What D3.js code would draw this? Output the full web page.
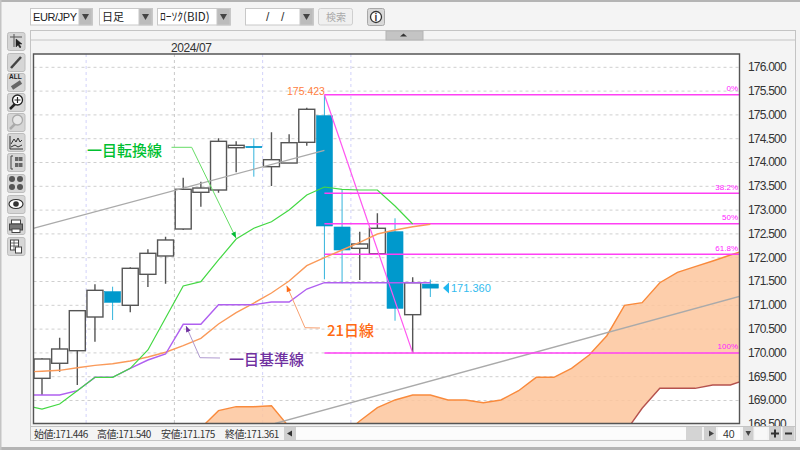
<!DOCTYPE html>
<html>
<head>
<meta charset="utf-8">
<script src="https://cdn.jsdelivr.net/npm/d3@7"></script>
<style>
html, body { margin: 0; padding: 0; background: #f4f4f4; overflow: hidden; }
text { font-family: "Liberation Sans", Arial, sans-serif; }
.jp { font-family: "Noto Sans CJK JP", sans-serif; }
</style>
</head>
<body>
<script>
// prices, one entry per daily bar
var opens  = [169.466,169.782,170.046,170.754,171.286,171.000,171.651,172.036,172.603,173.374,173.422,174.311,174.340,173.912,173.989,174.424,174.983,172.645,172.197,172.084,172.546,170.803,171.446]
var highs  = [169.887,170.319,170.900,171.441,171.391,171.798,172.176,172.441,173.681,173.597,174.508,174.445,174.508,174.634,174.592,175.151,175.423,173.422,172.546,172.933,172.828,171.588,171.540]
var lows   = [169.116,169.605,169.326,170.235,170.691,170.853,171.384,171.454,172.582,173.071,173.366,173.794,173.702,173.506,173.989,174.353,171.546,171.462,171.532,172.084,170.676,170.000,171.175]
var closes = [169.872,170.082,170.887,171.315,171.063,171.777,172.092,172.372,173.437,173.464,174.445,174.361,174.311,174.059,174.416,175.118,172.666,172.162,172.288,172.618,170.937,171.475,171.361]

// these start one bar left of the frame
var tenkan = [168.899,168.821,168.926,169.206,169.487,169.487,169.676,170.061,170.733,171.405,171.496,171.952,172.393,172.618,172.756,173.002,173.317,173.485,173.437,173.422,173.422,173.086,172.708]
var kijun  = [169.116,169.116,169.116,169.206,169.487,169.487,169.676,169.851,169.977,170.601,170.601,171.013,171.013,171.013,171.069,171.069,171.342,171.475,171.475,171.475,171.475,171.475,171.475,171.475]
var ma21   = [169.599,169.613,169.634,169.689,169.739,169.773,169.830,169.914,170.013,170.151,170.307,170.607,170.845,171.048,171.258,171.511,171.832,172.000,172.162,172.324,172.498,172.582,172.651,172.702]

// cloud, starts at bar 9, runs to bar 40
var spanA = [168.422,168.786,168.870,168.870,168.891,168.443,168.212,168.170,168.250,168.569,168.849,169.011,169.116,169.116,169.011,169.011,168.954,169.011,169.206,169.487,169.487,169.676,169.956,170.361,171.000,171.055,171.475,171.693,171.811,171.931,172.057,172.176]
var spanB = [168.000,168.000,168.000,168.000,168.000,168.000,168.000,168.000,168.000,168.000,168.000,168.000,168.000,168.000,168.000,168.000,168.000,168.000,168.000,168.000,168.000,168.000,168.000,168.000,168.317,168.836,169.256,169.256,169.256,169.326,169.326,169.452]

var trendUpper = [[-0.5,172.618],[16,174.256]]
var trendLower = [[13.2,168.517],[39.6,171.195]]

var fibHigh = 175.423
var fibLow = 170.000
var fibLevels = [0,0.382,0.5,0.618,1]
var fibLabels = ["0%","38.2%","50%","61.8%","100%"]
var priceTicks = [176,175.5,175,174.5,174,173.5,173,172.5,172,171.5,171,170.5,170,169.5,169,168.5]
var dayLinesLavender = [2.5,12.5,17.5]
var dayLinesMonth = [7.5]

var svg = d3.select("body").append("svg")
  .attr("width", 800)
  .attr("height", 450)
  .style("display", "block")

var x = d3.scaleLinear().domain([0,39]).range([42,730.4])
var y = d3.scaleLinear().domain([176,170]).range([67.3,352.9])

function box(g, x0, y0, w, h, fill, stroke) {
  return g.append("rect").attr("x", x0).attr("y", y0).attr("width", w).attr("height", h)
    .attr("fill", fill).attr("stroke", stroke || "none")
}
function label(g, x0, y0, s, size, color, jp) {
  var t = g.append("text").attr("x", x0).attr("y", y0).text(s)
    .attr("font-size", size).attr("fill", color)
  if (jp) t.attr("class", "jp")
  return t
}

// window background and outer edges
box(svg, 0, 0, 800, 450, "#f4f4f4")
box(svg, 0, 0, 800, 2, "#b4b4b4")
box(svg, 0, 447, 800, 3, "#b4b4b4")
box(svg, 0, 0, 1.5, 450, "#c4c4c4")

// top toolbar
var topBar = svg.append("g")
function combo(x0, w, s, jp, size) {
  box(topBar, x0+.5, 8.5, w, 16.5, "#fff", "#c8c8c8")
  box(topBar, x0+w-13, 8.5, 13, 16.5, "#bcbcbc", "#c8c8c8")
  topBar.append("path").attr("d", d3.line()([[x0+w-10,14],[x0+w-3,14],[x0+w-6.5,20]])).attr("fill", "#444")
  return label(topBar, x0+3, 21, s, size || 12, "#222", jp)
}
combo(30, 62, "EUR/JPY", false, 11).attr("letter-spacing", -0.4)
combo(99, 53, "日足", true, 11)
combo(157, 73, "ﾛｰｿｸ(BID)", true, 11.5)
combo(245, 68, "", false)
label(topBar, 266, 21, "/", 12, "#333")
label(topBar, 281, 21, "/", 12, "#333")
box(topBar, 318.5, 8.5, 34, 16.5, "#f0f0f0", "#cfcfcf").attr("rx", 2)
label(topBar, 326, 21, "検索", 10, "#aaa", true)
box(topBar, 367.5, 8.5, 17, 17, "#d8d8d8", "#a8a8a8").attr("rx", 2)
topBar.append("circle").attr("cx", 376).attr("cy", 17).attr("r", 5.5).attr("fill", "#fff").attr("stroke", "#333").attr("stroke-width", 1.3)
label(topBar, 376, 21, "i", 10, "#333").attr("text-anchor", "middle").attr("font-weight", "bold")

// chart panel
box(svg, 30.5, 30.5, 765, 410, "#f4f4f4", "#c4c4c4")
svg.append("line").attr("x1", 30).attr("x2", 795).attr("y1", 40).attr("y2", 40).attr("stroke", "#c4c4c4")
box(svg, 386, 31, 37, 9, "#c4c4c4", "#b4b4b4")
svg.append("path").attr("d", d3.line()([[400,36.5],[407,36.5],[403.5,33.5]])).attr("fill", "#333")
label(svg, 171, 52, "2024/07", 12, "#333").attr("letter-spacing", -0.4)

// left toolbar
var tools = svg.append("g")
var toolTops = [32,53,73,93,113,133,153,174,195,216,237]
toolTops.forEach(function(t) {
  box(tools, 7.5, t+.5, 17.5, 18, "#d6d6d6", "#bdbdbd").attr("rx", 2)
})
function icon(t, d, stroke, w, fill) {
  tools.append("path").attr("d", d).attr("transform", "translate(7," + t + ")")
    .attr("fill", fill || "none").attr("stroke", stroke || "#444").attr("stroke-width", w || 1)
}
icon(32, "M3 5H15M7 2V15", "#555")
icon(32, "M9 7L9 15L11 13L13 16L14 15L12 12L15 12Z", "#222", .5, "#222")
icon(53, "M4 15L14 4", "#444", 2.5)
label(tools, 9, 79, "ALL", 6.5, "#222").attr("font-weight", "bold")
icon(73, "M5 15L14 9", "#666", 4)
icon(93, "M3 16L8 11", "#222", 2.5)
tools.append("circle").attr("cx", 17.5).attr("cy", 100).attr("r", 5).attr("fill", "#fff").attr("stroke", "#222").attr("stroke-width", 1.3)
icon(93, "M7.5 7H13.5M10.5 4V10", "#222", 1.2)
icon(113, "M3 16L8 11", "#aaa", 2.5)
tools.append("circle").attr("cx", 17.5).attr("cy", 120).attr("r", 5).attr("fill", "#e8e8e8").attr("stroke", "#aaa").attr("stroke-width", 1.3)
icon(133, "M3 3V16H16M4 11L7 6L9 9L11 5L13 9L15 7", "#333")
icon(133, "M4 14L8 12L11 14L15 12", "#333")
icon(153, "M4 3V16M4 3H6M4 16H6", "#444")
;[[8,4],[12,4],[8,10],[12,10]].forEach(function(p) { box(tools, 7+p[0], 153+p[1], 3.5, 4, "#666") })
;[[5,5],[13,5],[5,13],[13,13]].forEach(function(p) {
  tools.append("circle").attr("cx", 7+p[0]).attr("cy", 174+p[1]).attr("r", 3).attr("fill", "#555")
})
tools.append("ellipse").attr("cx", 16).attr("cy", 204).attr("rx", 7).attr("ry", 4.5).attr("fill", "#fff").attr("stroke", "#333").attr("stroke-width", 1.2)
tools.append("circle").attr("cx", 16).attr("cy", 204).attr("r", 2.8).attr("fill", "#333")
box(tools, 11.5, 220, 9, 4, "#fff", "#444")
box(tools, 9.5, 224, 13, 6, "#777", "#444")
box(tools, 12, 229, 8, 3.5, "#fff", "#444")
box(tools, 10.5, 240, 8, 10, "#fff", "#444")
icon(237, "M3.5 6H11.5M3.5 9H11.5M7 3V13", "#444", .8)
box(tools, 15.5, 247, 6, 6, "#fff", "#444")

// plot
svg.append("defs").append("clipPath").attr("id", "plotclip").append("rect")
  .attr("x", 33.5).attr("y", 54).attr("width", 706).attr("height", 369.5)
box(svg, 33.5, 54, 706, 369.5, "#fff")

var plot = svg.append("g").attr("clip-path", "url(#plotclip)")

plot.append("g").selectAll("line").data(priceTicks).join("line")
  .attr("x1", 33.5).attr("x2", 739.5)
  .attr("y1", function(d) { return y(d) }).attr("y2", function(d) { return y(d) })
  .attr("stroke", "#cfcfcf").attr("stroke-dasharray", "3,3")
plot.append("g").selectAll("line").data(dayLinesLavender).join("line")
  .attr("x1", function(d) { return x(d) }).attr("x2", function(d) { return x(d) })
  .attr("y1", 54).attr("y2", 423.5)
  .attr("stroke", "#d2d2fa").attr("stroke-dasharray", "3,3")
plot.append("g").selectAll("line").data(dayLinesMonth).join("line")
  .attr("x1", function(d) { return x(d) }).attr("x2", function(d) { return x(d) })
  .attr("y1", 54).attr("y2", 423.5)
  .attr("stroke", "#c8c8c8").attr("stroke-dasharray", "3,3")

// cloud
var cloud = d3.area()
  .x(function(d, i) { return x(i+9) })
  .y0(function(d, i) { return y(spanB[i]) })
  .y1(function(d) { return y(d) })
plot.append("path").datum(spanA).attr("d", cloud).attr("fill", "#fdc59c").attr("fill-opacity", .85)

var lineFrom = function(start) {
  return d3.line().x(function(d, i) { return x(i+start) }).y(function(d) { return y(d) })
}
plot.append("path").datum(spanA).attr("d", lineFrom(9)).attr("fill", "none").attr("stroke", "#f98a3c").attr("stroke-width", 1.4)
plot.append("path").datum(spanB).attr("d", lineFrom(9)).attr("fill", "none").attr("stroke", "#b5524e").attr("stroke-width", 1.4)

// candles
var bars = d3.range(opens.length)
plot.append("g").selectAll("line").data(bars).join("line")
  .attr("x1", function(i) { return x(i) }).attr("x2", function(i) { return x(i) })
  .attr("y1", function(i) { return y(highs[i]) }).attr("y2", function(i) { return y(lows[i]) })
  .attr("stroke", function(i) { return closes[i] < opens[i] ? "#33b4dc" : "#555" })
  .attr("stroke-width", function(i) { return closes[i] < opens[i] ? 1 : 1.4 })
plot.append("g").selectAll("rect").data(bars).join("rect")
  .attr("x", function(i) { return x(i) - 8 })
  .attr("width", 16)
  .attr("y", function(i) { return y(Math.max(opens[i], closes[i])) })
  .attr("height", function(i) { return Math.abs(y(opens[i]) - y(closes[i])) })
  .attr("fill", function(i) { return closes[i] < opens[i] ? "#0099cc" : "#fff" })
  .attr("stroke", function(i) { return closes[i] < opens[i] ? "#0099cc" : "#555" })
  .attr("stroke-width", function(i) { return closes[i] < opens[i] ? .6 : 1.4 })

// trend lines
var pairLine = d3.line().x(function(d) { return x(d[0]) }).y(function(d) { return y(d[1]) })
plot.append("path").datum(trendUpper).attr("d", pairLine).attr("fill", "none").attr("stroke", "#aaa").attr("stroke-width", 1.3)
plot.append("path").datum(trendLower).attr("d", pairLine).attr("fill", "none").attr("stroke", "#aaa").attr("stroke-width", 1.3)

// fibonacci
function fibPrice(l) { return fibHigh - (fibHigh - fibLow) * l }
plot.append("g").selectAll("line").data(fibLevels).join("line")
  .attr("x1", x(16)).attr("x2", 739.5)
  .attr("y1", function(d) { return y(fibPrice(d)) }).attr("y2", function(d) { return y(fibPrice(d)) })
  .attr("stroke", "#ff40f4").attr("stroke-width", 1.5)
plot.append("path").datum([[16,fibHigh],[21,fibLow]]).attr("d", pairLine).attr("fill", "none").attr("stroke", "#ff55f0").attr("stroke-width", 1.2)
svg.append("g").selectAll("text").data(fibLevels).join("text")
  .attr("x", 738)
  .attr("y", function(d) { return y(fibPrice(d)) - 3.5 })
  .attr("text-anchor", "end")
  .attr("font-size", 8)
  .attr("fill", "#ff22ff")
  .text(function(d, i) { return fibLabels[i] })

// indicators
plot.append("path").datum(ma21).attr("d", lineFrom(-1)).attr("fill", "none").attr("stroke", "#fa9a5a").attr("stroke-width", 1.4)
plot.append("path").datum(kijun).attr("d", lineFrom(-1)).attr("fill", "none").attr("stroke", "#b060f0").attr("stroke-width", 1.4)
plot.append("path").datum(tenkan).attr("d", lineFrom(-1)).attr("fill", "none").attr("stroke", "#44d844").attr("stroke-width", 1.2)

// annotations with leader lines
function leader(pts, color, head) {
  svg.append("path").attr("d", d3.line()(pts)).attr("fill", "none").attr("stroke", color).attr("stroke-width", 1)
  var a = pts[pts.length-2], b = pts[pts.length-1]
  var ang = Math.atan2(b[1]-a[1], b[0]-a[0]) * 180 / Math.PI
  svg.append("path").attr("d", "M0 0L-6 -2.5L-6 2.5Z")
    .attr("transform", "translate(" + b[0] + "," + b[1] + ") rotate(" + ang + ")")
    .attr("fill", head)
}
leader([[171.5,147.3],[191.7,147.3],[236,238]], "#66dd66", "#00bb33")
leader([[320,328],[305,327.7],[286.7,285.7]], "#f8a070", "#ff6a13")
leader([[220,358],[200,357.7],[186,326]], "#b09ad0", "#7030a0")
label(svg, 87, 155.5, "一目転換線", 15, "#00c030", true).attr("font-weight", 500)
label(svg, 327, 335.5, "21日線", 15, "#ff6a13", true).attr("font-weight", 500)
label(svg, 229, 364.5, "一目基準線", 15, "#7030a0", true).attr("font-weight", 500)
label(svg, 287, 95, "175.423", 10.5, "#ff8040")

// current price marker
svg.append("path").attr("d", d3.line()([[443,y(closes[22])],[449,y(closes[22])-5.5],[449,y(closes[22])+5.5]])).attr("fill", "#22b8f0")
label(svg, 451, y(closes[22]) + 4, "171.360", 11, "#33bbee")

// frame
svg.append("path").attr("d", "M33.5 423.5V54H739.5V423.5Z").attr("fill", "none").attr("stroke", "#555").attr("stroke-width", 1.4)

// price axis
var axis = d3.axisRight(y).tickValues(priceTicks).tickSize(0).tickPadding(0)
  .tickFormat(function(d) { return d.toFixed(3) })
var axisG = svg.append("g").attr("transform", "translate(748,-0.5)").call(axis)
axisG.select(".domain").remove()
axisG.selectAll("text").attr("font-size", 12).attr("fill", "#333").attr("letter-spacing", -0.8)
  .style("font-family", '"Liberation Sans", Arial, sans-serif')

// status bar, hides the bottom tick label's lower half
box(svg, 30.5, 426.5, 765, 14, "#f4f4f4", "#c4c4c4")
var stats = [["始値:171.446",34],["高値:171.540",97],["安値:171.175",161],["終値:171.361",225]]
stats.forEach(function(s) { label(svg, s[1], 438, s[0], 10, "#333", true).attr("letter-spacing", -0.5) })
box(svg, 284, 427, 12, 13, "#cfcfcf")
svg.append("path").attr("d", "M287 433.5L292 430.5V436.5Z").attr("fill", "#333")
box(svg, 296, 427.5, 390, 12, "#fcfcfc")
box(svg, 686, 427, 16, 13, "#d4d4d4")
box(svg, 704, 427, 12, 13, "#cfcfcf")
svg.append("path").attr("d", "M709 430.5L714 433.5L709 436.5Z").attr("fill", "#444")
box(svg, 718, 427.5, 22, 12, "#fff")
label(svg, 723, 438, "40", 10.5, "#333")
box(svg, 743, 427, 10.5, 13, "#cfcfcf")
svg.append("path").attr("d", "M745.5 431H751L748.3 436Z").attr("fill", "#444")
box(svg, 755, 427.5, 12, 12, "#f8f8f8")
box(svg, 769, 427, 12, 13, "#cfcfcf")
svg.append("path").attr("d", "M771 433.5H779M775 429.5V437.5").attr("stroke", "#333").attr("stroke-width", 2)
box(svg, 782.5, 427, 12, 13, "#cfcfcf")
svg.append("path").attr("d", "M785 433.5H792").attr("stroke", "#333").attr("stroke-width", 2)
</script>
</body>
</html>
